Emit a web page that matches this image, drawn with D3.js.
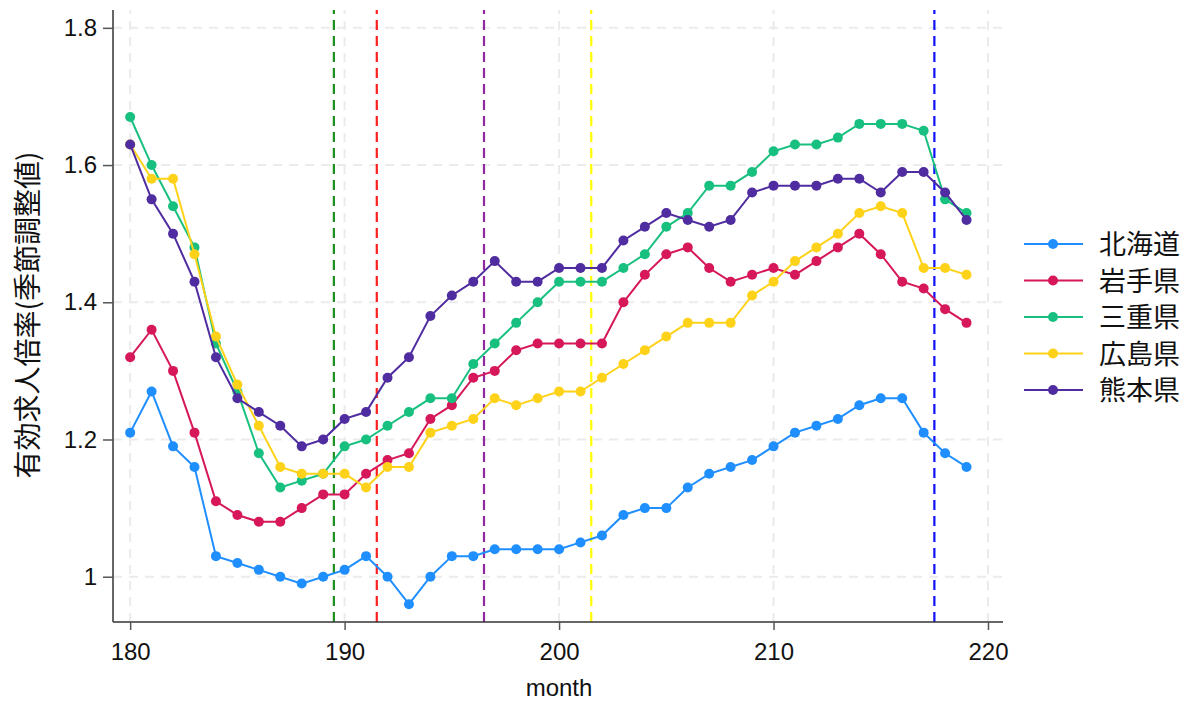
<!DOCTYPE html>
<html><head><meta charset="utf-8">
<script src="https://cdn.jsdelivr.net/npm/d3@7"></script>
<style>body{margin:0;background:#fff;} svg{display:block;}</style>
</head><body>
<svg id="chart" width="1202" height="702"></svg>
<script>
const months = d3.range(180, 220);
const seriesNames = ["北海道", "岩手県", "三重県", "広島県", "熊本県"];
const hokkaido = [1.21,1.27,1.19,1.16,1.03,1.02,1.01,1.00,0.99,1.00,1.01,1.03,1.00,0.96,1.00,1.03,1.03,1.04,1.04,1.04,1.04,1.05,1.06,1.09,1.10,1.10,1.13,1.15,1.16,1.17,1.19,1.21,1.22,1.23,1.25,1.26,1.26,1.21,1.18,1.16];
const iwate = [1.32,1.36,1.30,1.21,1.11,1.09,1.08,1.08,1.10,1.12,1.12,1.15,1.17,1.18,1.23,1.25,1.29,1.30,1.33,1.34,1.34,1.34,1.34,1.40,1.44,1.47,1.48,1.45,1.43,1.44,1.45,1.44,1.46,1.48,1.50,1.47,1.43,1.42,1.39,1.37];
const mie = [1.67,1.60,1.54,1.48,1.34,1.27,1.18,1.13,1.14,1.15,1.19,1.20,1.22,1.24,1.26,1.26,1.31,1.34,1.37,1.40,1.43,1.43,1.43,1.45,1.47,1.51,1.53,1.57,1.57,1.59,1.62,1.63,1.63,1.64,1.66,1.66,1.66,1.65,1.55,1.53];
const hiroshima = [1.63,1.58,1.58,1.47,1.35,1.28,1.22,1.16,1.15,1.15,1.15,1.13,1.16,1.16,1.21,1.22,1.23,1.26,1.25,1.26,1.27,1.27,1.29,1.31,1.33,1.35,1.37,1.37,1.37,1.41,1.43,1.46,1.48,1.50,1.53,1.54,1.53,1.45,1.45,1.44];
const kumamoto = [1.63,1.55,1.50,1.43,1.32,1.26,1.24,1.22,1.19,1.20,1.23,1.24,1.29,1.32,1.38,1.41,1.43,1.46,1.43,1.43,1.45,1.45,1.45,1.49,1.51,1.53,1.52,1.51,1.52,1.56,1.57,1.57,1.57,1.58,1.58,1.56,1.59,1.59,1.56,1.52];
const seriesColors = ["#1f8fff", "#d6175a", "#18c07f", "#ffd21a", "#4f2c9f"];
const xTicks = [180, 190, 200, 210, 220];
const yTicks = [1.0, 1.2, 1.4, 1.6, 1.8];
const markerMonths = [189.5, 191.5, 196.5, 201.5, 217.5];
const markerColors = ["#1f8f1f", "#ff2020", "#8e2a9e", "#ffff00", "#1010ff"];

const allSeries = [hokkaido, iwate, mie, hiroshima, kumamoto];
const svg = d3.select("#chart");
const x = d3.scaleLinear().domain([179.2, 220.7]).range([113, 1003]);
const y = d3.scaleLinear().domain([0.934, 1.826]).range([622, 10]);
const font = "'Liberation Sans', Arial, sans-serif";
const cjk = "'Noto Sans CJK JP', sans-serif";

// grid
const grid = svg.append("g");
grid.selectAll(".hg").data(yTicks).join("line")
  .attr("x1", x.range()[0]).attr("x2", x.range()[1])
  .attr("y1", d => y(d)).attr("y2", d => y(d))
  .attr("stroke", "#ebebeb").attr("stroke-width", 2).attr("stroke-dasharray", "9,7");
grid.selectAll(".vg").data(xTicks).join("line")
  .attr("x1", d => x(d)).attr("x2", d => x(d))
  .attr("y1", y.range()[0]).attr("y2", y.range()[1])
  .attr("stroke", "#ebebeb").attr("stroke-width", 2).attr("stroke-dasharray", "9,7");

// marker lines
svg.append("g").selectAll("line").data(markerMonths).join("line")
  .attr("x1", d => x(d)).attr("x2", d => x(d))
  .attr("y1", y.range()[0]).attr("y2", y.range()[1])
  .attr("stroke", (d, i) => markerColors[i]).attr("stroke-width", 2.2).attr("stroke-dasharray", "10,6");

// series
const line = d3.line().x((d, i) => x(months[i])).y(d => y(d));
allSeries.forEach((vals, si) => {
  const g = svg.append("g");
  g.append("path").datum(vals).attr("d", line).attr("fill", "none")
    .attr("stroke", seriesColors[si]).attr("stroke-width", 2);
  g.selectAll("circle").data(vals).join("circle")
    .attr("cx", (d, i) => x(months[i])).attr("cy", d => y(d)).attr("r", 5)
    .attr("fill", seriesColors[si]);
});

// axes
const xAxis = d3.axisBottom(x).tickValues(xTicks).tickSize(8).tickPadding(13).tickFormat(d3.format("d"));
const gx = svg.append("g").attr("transform", `translate(0,${y.range()[0]})`).call(xAxis);
const yAxis = d3.axisLeft(y).tickValues(yTicks).tickSize(10).tickPadding(6).tickFormat(d => d === 1 ? "1" : d3.format(".1f")(d));
const gy = svg.append("g").attr("transform", `translate(${x.range()[0]},0)`).call(yAxis);
[gx, gy].forEach(g => {
  g.select(".domain").attr("stroke", "#333").attr("stroke-width", 1.5);
  g.selectAll(".tick line").attr("stroke", "#555").attr("stroke-width", 1.5);
  g.selectAll(".tick text").attr("font-family", font).attr("font-size", 24).attr("fill", "#111");
});
gx.select(".domain").attr("d", `M${x.range()[0]},0H${x.range()[1]}`);
gy.select(".domain").attr("d", `M0,${y.range()[0]}V${y.range()[1]}`);

svg.append("text").attr("x", 559).attr("y", 696)
  .attr("text-anchor", "middle").attr("font-family", font).attr("font-size", 24).attr("fill", "#111").text("month");
svg.append("text").attr("transform", "translate(38,315) rotate(-90)")
  .attr("text-anchor", "middle").attr("font-family", cjk).attr("font-size", 28).attr("fill", "#111")
  .text("有効求人倍率(季節調整値)");

// legend
const lg = svg.append("g");
seriesNames.forEach((name, i) => {
  const ly = 244 + i * 36.5;
  lg.append("line").attr("x1", 1024).attr("x2", 1083).attr("y1", ly).attr("y2", ly)
    .attr("stroke", seriesColors[i]).attr("stroke-width", 2);
  lg.append("circle").attr("cx", 1053).attr("cy", ly).attr("r", 5).attr("fill", seriesColors[i]);
  lg.append("text").attr("x", 1099).attr("y", ly + 10).attr("font-family", cjk)
    .attr("font-size", 27).attr("fill", "#111").text(name);
});
</script>
</body></html>
